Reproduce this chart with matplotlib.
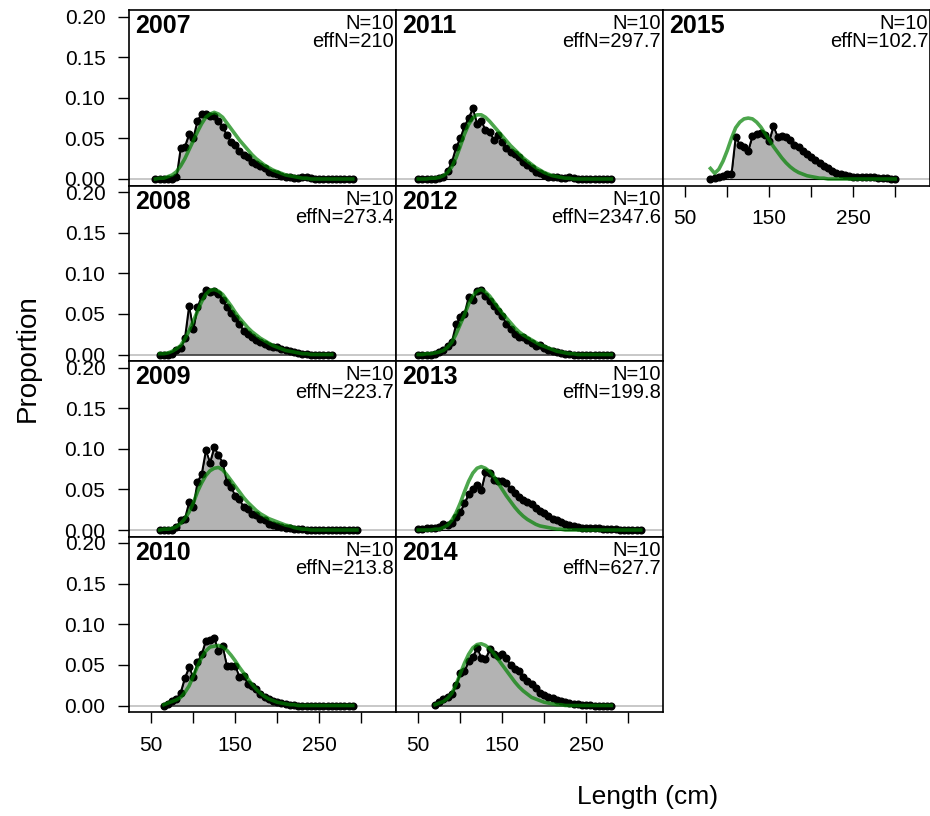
#!/usr/bin/env python3
"""
Length composition fits by year: observed proportions (grey polygon,
black points) against expected proportions (green line), one panel per year.
"""

import numpy as np
import matplotlib
matplotlib.use('Agg')
import matplotlib.pyplot as plt

plt.rcParams['font.family'] = ['Liberation Sans', 'DejaVu Sans']

# ---- data -----------------------------------------------------------------
years = [2007, 2008, 2009, 2010, 2011, 2012, 2013, 2014, 2015]
n_samples = [10, 10, 10, 10, 10, 10, 10, 10, 10]
eff_n = ['210', '273.4', '223.7', '213.8', '297.7', '2347.6', '199.8', '627.7', '102.7']
first_bin = [55, 60, 60, 65, 50, 50, 50, 70, 80]   # cm, lowest length bin per year
bin_width = 5

obs_2007 = [0, 0, 0, 0, 0, 0.002, 0.038, 0.040, 0.055, 0.050, 0.072, 0.080, 0.080, 0.077,
            0.078, 0.072, 0.064, 0.054, 0.046, 0.042, 0.034, 0.029, 0.027, 0.021, 0.018,
            0.016, 0.013, 0.009, 0.007, 0.006, 0.004, 0.003, 0.002, 0.001, 0.001, 0.003,
            0.002, 0.001, 0, 0, 0, 0, 0, 0, 0, 0, 0, 0]
exp_2007 = [0, 0.001, 0.001, 0.003, 0.005, 0.009, 0.016, 0.025, 0.036, 0.047, 0.058, 0.068,
            0.076, 0.080, 0.082, 0.080, 0.076, 0.069, 0.062, 0.055, 0.048, 0.042, 0.036,
            0.030, 0.025, 0.021, 0.017, 0.014, 0.011, 0.009, 0.007, 0.005, 0.004, 0.003,
            0.002, 0.001, 0.001, 0, 0, 0, 0, 0, 0, 0, 0, 0, 0, 0]

obs_2008 = [0, 0, 0, 0.001, 0.005, 0.008, 0.020, 0.060, 0.031, 0.058, 0.072, 0.080, 0.077,
            0.078, 0.075, 0.067, 0.058, 0.051, 0.045, 0.038, 0.029, 0.025, 0.022, 0.018,
            0.015, 0.013, 0.010, 0.009, 0.009, 0.007, 0.005, 0.004, 0.003, 0.002, 0.001,
            0.001, 0, 0, 0, 0, 0, 0]
exp_2008 = [0.001, 0.001, 0.002, 0.004, 0.007, 0.011, 0.019, 0.029, 0.041, 0.053, 0.065,
            0.074, 0.079, 0.080, 0.078, 0.074, 0.067, 0.060, 0.052, 0.045, 0.039, 0.033,
            0.028, 0.024, 0.020, 0.017, 0.014, 0.011, 0.009, 0.007, 0.005, 0.004, 0.003,
            0.002, 0.001, 0.001, 0, 0, 0, 0, 0, 0]

obs_2009 = [0, 0, 0, 0, 0.004, 0.012, 0.014, 0.034, 0.028, 0.059, 0.069, 0.098, 0.083,
            0.102, 0.092, 0.083, 0.059, 0.053, 0.042, 0.038, 0.028, 0.026, 0.020, 0.018,
            0.014, 0.012, 0.008, 0.006, 0.005, 0.004, 0.003, 0.002, 0.001, 0.001, 0.001,
            0, 0, 0, 0, 0, 0, 0, 0, 0, 0, 0, 0, 0]
exp_2009 = [0, 0.001, 0.001, 0.002, 0.004, 0.008, 0.014, 0.022, 0.033, 0.047, 0.058, 0.067,
            0.073, 0.076, 0.077, 0.074, 0.068, 0.061, 0.054, 0.047, 0.040, 0.034, 0.029,
            0.024, 0.020, 0.017, 0.014, 0.012, 0.010, 0.008, 0.006, 0.005, 0.003, 0.002,
            0.001, 0.001, 0, 0, 0, 0, 0, 0, 0, 0, 0, 0, 0, 0]

obs_2010 = [0, 0.002, 0.006, 0.008, 0.016, 0.034, 0.047, 0.035, 0.053, 0.063, 0.080, 0.081,
            0.083, 0.067, 0.073, 0.049, 0.049, 0.049, 0.035, 0.036, 0.027, 0.024, 0.020,
            0.014, 0.011, 0.008, 0.005, 0.004, 0.003, 0.002, 0.001, 0.001, 0, 0, 0, 0, 0,
            0, 0, 0, 0, 0, 0, 0, 0, 0]
exp_2010 = [0.001, 0.003, 0.005, 0.007, 0.010, 0.016, 0.024, 0.036, 0.048, 0.059, 0.067,
            0.072, 0.073, 0.074, 0.072, 0.068, 0.062, 0.055, 0.047, 0.040, 0.033, 0.026,
            0.020, 0.015, 0.011, 0.008, 0.006, 0.004, 0.003, 0.002, 0.001, 0.001, 0, 0, 0,
            0, 0, 0, 0, 0, 0, 0, 0, 0, 0, 0]

obs_2011 = [0, 0, 0, 0, 0, 0.001, 0.002, 0.010, 0.021, 0.039, 0.050, 0.065, 0.075, 0.087,
            0.068, 0.072, 0.060, 0.058, 0.048, 0.054, 0.046, 0.038, 0.033, 0.031, 0.027,
            0.021, 0.017, 0.013, 0.009, 0.007, 0.005, 0.003, 0.002, 0.002, 0.001, 0.001,
            0.003, 0.001, 0, 0, 0, 0, 0, 0, 0, 0, 0]
exp_2011 = [0, 0, 0, 0.001, 0.001, 0.002, 0.004, 0.008, 0.015, 0.026, 0.040, 0.055, 0.067,
            0.075, 0.079, 0.079, 0.076, 0.071, 0.065, 0.059, 0.053, 0.047, 0.041, 0.036,
            0.031, 0.026, 0.022, 0.018, 0.014, 0.011, 0.008, 0.006, 0.004, 0.003, 0.002,
            0.001, 0.001, 0, 0, 0, 0, 0, 0, 0, 0, 0, 0]

obs_2012 = [0, 0, 0, 0, 0.001, 0.003, 0.006, 0.010, 0.016, 0.037, 0.046, 0.050, 0.071,
            0.067, 0.078, 0.079, 0.072, 0.066, 0.060, 0.054, 0.048, 0.037, 0.031, 0.025,
            0.021, 0.021, 0.018, 0.014, 0.010, 0.012, 0.008, 0.006, 0.004, 0.003, 0.002,
            0.001, 0.001, 0, 0, 0, 0, 0, 0, 0, 0, 0, 0]
exp_2012 = [0, 0, 0.001, 0.001, 0.002, 0.003, 0.005, 0.009, 0.015, 0.025, 0.037, 0.049,
            0.062, 0.072, 0.078, 0.080, 0.077, 0.072, 0.065, 0.058, 0.051, 0.045, 0.039,
            0.033, 0.028, 0.024, 0.021, 0.018, 0.015, 0.012, 0.010, 0.008, 0.006, 0.004,
            0.003, 0.002, 0.001, 0.001, 0, 0, 0, 0, 0, 0, 0, 0, 0]

obs_2013 = [0.001, 0.001, 0.002, 0.002, 0.003, 0.004, 0.007, 0.006, 0.009, 0.016, 0.022,
            0.033, 0.044, 0.050, 0.055, 0.049, 0.071, 0.070, 0.062, 0.060, 0.060, 0.058,
            0.050, 0.045, 0.041, 0.037, 0.034, 0.032, 0.027, 0.023, 0.021, 0.017, 0.014,
            0.012, 0.010, 0.008, 0.006, 0.005, 0.004, 0.003, 0.003, 0.002, 0.002, 0.002,
            0.001, 0.001, 0.001, 0.001, 0, 0, 0, 0, 0, 0]
exp_2013 = [0, 0, 0, 0, 0.001, 0.001, 0.003, 0.006, 0.012, 0.021, 0.033, 0.047, 0.060,
            0.070, 0.076, 0.078, 0.076, 0.072, 0.066, 0.058, 0.050, 0.042, 0.035, 0.028,
            0.022, 0.017, 0.013, 0.010, 0.007, 0.005, 0.004, 0.003, 0.002, 0.001, 0.001,
            0, 0, 0, 0, 0, 0, 0, 0, 0, 0, 0, 0, 0, 0, 0, 0, 0, 0, 0]

obs_2014 = [0.001, 0.004, 0.008, 0.010, 0.014, 0.025, 0.040, 0.042, 0.055, 0.060, 0.071,
            0.059, 0.057, 0.069, 0.063, 0.061, 0.064, 0.058, 0.050, 0.045, 0.042, 0.035,
            0.030, 0.026, 0.022, 0.016, 0.013, 0.011, 0.009, 0.007, 0.005, 0.004, 0.003,
            0.002, 0.002, 0.001, 0.001, 0.001, 0, 0, 0, 0, 0]
exp_2014 = [0.001, 0.003, 0.005, 0.009, 0.015, 0.026, 0.039, 0.052, 0.063, 0.071, 0.075,
            0.076, 0.074, 0.070, 0.064, 0.057, 0.050, 0.043, 0.036, 0.029, 0.023, 0.018,
            0.014, 0.010, 0.008, 0.006, 0.004, 0.003, 0.002, 0.001, 0.001, 0, 0, 0, 0, 0,
            0, 0, 0, 0, 0, 0, 0]

obs_2015 = [0, 0.001, 0.003, 0.004, 0.006, 0.006, 0.052, 0.042, 0.040, 0.035, 0.053, 0.056,
            0.057, 0.054, 0.047, 0.065, 0.052, 0.053, 0.052, 0.048, 0.042, 0.040, 0.035,
            0.031, 0.027, 0.024, 0.020, 0.016, 0.013, 0.010, 0.008, 0.006, 0.005, 0.004,
            0.003, 0.003, 0.003, 0.002, 0.002, 0.002, 0.001, 0.001, 0.001, 0, 0]
exp_2015 = [0.013, 0.007, 0.012, 0.022, 0.035, 0.050, 0.063, 0.070, 0.074, 0.075, 0.074,
            0.070, 0.064, 0.056, 0.048, 0.040, 0.033, 0.026, 0.020, 0.015, 0.011, 0.008,
            0.006, 0.004, 0.003, 0.002, 0.001, 0.001, 0, 0, 0, 0, 0, 0, 0, 0, 0, 0, 0, 0,
            0, 0, 0, 0, 0]

observed = {2007: obs_2007, 2008: obs_2008, 2009: obs_2009, 2010: obs_2010, 2011: obs_2011,
            2012: obs_2012, 2013: obs_2013, 2014: obs_2014, 2015: obs_2015}
expected = {2007: exp_2007, 2008: exp_2008, 2009: exp_2009, 2010: exp_2010, 2011: exp_2011,
            2012: exp_2012, 2013: exp_2013, 2014: exp_2014, 2015: exp_2015}

# ---- layout (pixels of a 930x816 figure) -----------------------------------
FIG_W, FIG_H = 930, 816
PANEL_LEFT, PANEL_TOP = 129, 10
PANEL_W, PANEL_H = 267, 175.5
N_ROWS = 4

XLIM = (23.5, 341.5)
YLIM = (-0.008, 0.208)

FILL_COL = '#b3b3b3'
ZERO_COL = '#c4c4c4'
EXP_COL = (0, 0.5, 0, 0.7)


def panel_axes(fig, row, col):
    left = (PANEL_LEFT + col * PANEL_W) / FIG_W
    bottom = 1 - (PANEL_TOP + (row + 1) * PANEL_H) / FIG_H
    return fig.add_axes([left, bottom, PANEL_W / FIG_W, PANEL_H / FIG_H])


def draw_panel(ax, year, n, effn, lens, obs, exp, show_x, show_y):
    ax.axhline(0, color=ZERO_COL, linewidth=1.3, zorder=1)
    ax.fill_between(lens, 0, obs, facecolor=FILL_COL, edgecolor='black',
                    linewidth=0.8, zorder=2)
    ax.plot(lens, obs, color='black', linewidth=1.3, marker='o', markersize=4.8, zorder=3)
    ax.plot(lens, exp, color=EXP_COL, linewidth=2.6, zorder=4)

    ax.set_xlim(*XLIM)
    ax.set_ylim(*YLIM)

    ax.text(0.022, 0.975, str(year), transform=ax.transAxes, ha='left', va='top',
            fontsize=18, fontweight='bold')
    ax.text(0.993, 0.975, f'N={n}\neffN={effn}', transform=ax.transAxes,
            ha='right', va='top', fontsize=14.5, linespacing=0.92)

    for side in ax.spines.values():
        side.set_linewidth(1.2)

    ax.tick_params(direction='out', length=8, width=1, labelsize=15, pad=9)
    if show_x:
        ax.set_xticks([50, 100, 150, 200, 250, 300])
        ax.set_xticklabels(['50', '', '150', '', '250', ''])
    else:
        ax.set_xticks([])
    if show_y:
        ax.set_yticks([0, 0.05, 0.10, 0.15, 0.20])
        ax.set_yticklabels(['0.00', '0.05', '0.10', '0.15', '0.20'])
    else:
        ax.set_yticks([])


fig = plt.figure(figsize=(FIG_W / 100, FIG_H / 100), dpi=100)

for i, year in enumerate(years):
    col = i // N_ROWS
    row = i % N_ROWS
    ax = panel_axes(fig, row, col)
    obs = observed[year]
    lens = np.arange(first_bin[i], first_bin[i] + bin_width * len(obs), bin_width)
    # x axis only where nothing sits below the panel
    show_x = (row == N_ROWS - 1) or (i == len(years) - 1)
    draw_panel(ax, year, n_samples[i], eff_n[i], lens, obs, expected[year],
               show_x, col == 0)

fig.text(648 / FIG_W, 1 - 797 / FIG_H, 'Length (cm)', ha='center', va='center', fontsize=19)
fig.text(28 / FIG_W, 1 - 358 / FIG_H, 'Proportion', ha='center', va='center',
         rotation=90, fontsize=20)

plt.savefig('out.png', dpi=100)
